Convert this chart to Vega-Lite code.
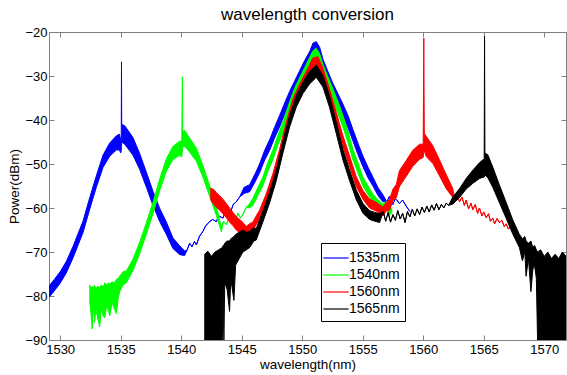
{
  "$schema": "https://vega.github.io/schema/vega-lite/v6.json",
  "width": 517,
  "height": 308,
  "autosize": {"type": "none"},
  "padding": {"left": 49, "top": 32, "right": 1, "bottom": 35},
  "title": {"text": "wavelength conversion", "fontSize": 17, "fontWeight": "normal", "font": "Liberation Sans", "color": "#000000", "offset": 2},
  "datasets": {
    "blue": [
      {"s":"1535nm","x":1529.08,"hi":-77.7,"lo":-80.3},
      {"s":"1535nm","x":1529.5,"hi":-76.3,"lo":-78.9},
      {"s":"1535nm","x":1530.0,"hi":-74.5,"lo":-77.1},
      {"s":"1535nm","x":1530.5,"hi":-72.2,"lo":-74.8},
      {"s":"1535nm","x":1531.07,"hi":-68.7,"lo":-71.3},
      {"s":"1535nm","x":1531.5,"hi":-65.7,"lo":-68.3},
      {"s":"1535nm","x":1531.9,"hi":-62.9,"lo":-65.5},
      {"s":"1535nm","x":1532.45,"hi":-57.6,"lo":-60.2},
      {"s":"1535nm","x":1533.0,"hi":-52.6,"lo":-55.2},
      {"s":"1535nm","x":1533.54,"hi":-48.0,"lo":-50.8},
      {"s":"1535nm","x":1534.1,"hi":-45.2,"lo":-48.2},
      {"s":"1535nm","x":1534.65,"hi":-43.6,"lo":-46.8},
      {"s":"1535nm","x":1534.9,"hi":-43.2,"lo":-46.8},
      {"s":"1535nm","x":1535.0,"hi":-44.5,"lo":-47.5},
      {"s":"1535nm","x":1535.05,"hi":-45.0,"lo":-47.0},
      {"s":"1535nm","x":1535.07,"hi":-26.8,"lo":-46.0},
      {"s":"1535nm","x":1535.09,"hi":-41.0,"lo":-45.0},
      {"s":"1535nm","x":1535.34,"hi":-41.3,"lo":-45.5},
      {"s":"1535nm","x":1536.02,"hi":-44.0,"lo":-48.0},
      {"s":"1535nm","x":1536.57,"hi":-47.6,"lo":-51.2},
      {"s":"1535nm","x":1537.13,"hi":-51.9,"lo":-55.3},
      {"s":"1535nm","x":1537.67,"hi":-56.2,"lo":-59.4},
      {"s":"1535nm","x":1538.23,"hi":-60.1,"lo":-63.1},
      {"s":"1535nm","x":1538.78,"hi":-63.2,"lo":-66.0},
      {"s":"1535nm","x":1539.32,"hi":-66.8,"lo":-69.2},
      {"s":"1535nm","x":1539.88,"hi":-68.6,"lo":-70.6},
      {"s":"1535nm","x":1540.29,"hi":-69.8,"lo":-70.8},
      {"s":"1535nm","x":1540.5,"hi":-69.5,"lo":-69.5},
      {"s":"1535nm","x":1540.7,"hi":-68.0,"lo":-68.0},
      {"s":"1535nm","x":1540.9,"hi":-68.8,"lo":-68.8},
      {"s":"1535nm","x":1541.1,"hi":-67.6,"lo":-67.6},
      {"s":"1535nm","x":1541.26,"hi":-68.4,"lo":-68.4},
      {"s":"1535nm","x":1541.5,"hi":-66.5,"lo":-66.5},
      {"s":"1535nm","x":1541.8,"hi":-65.3,"lo":-65.3},
      {"s":"1535nm","x":1542.0,"hi":-64.2,"lo":-64.2},
      {"s":"1535nm","x":1542.2,"hi":-63.5,"lo":-63.5},
      {"s":"1535nm","x":1542.36,"hi":-63.1,"lo":-63.1},
      {"s":"1535nm","x":1542.6,"hi":-62.6,"lo":-62.6},
      {"s":"1535nm","x":1542.91,"hi":-63.1,"lo":-63.1},
      {"s":"1535nm","x":1543.1,"hi":-61.8,"lo":-61.8},
      {"s":"1535nm","x":1543.45,"hi":-62.3,"lo":-62.3},
      {"s":"1535nm","x":1543.7,"hi":-60.6,"lo":-60.6},
      {"s":"1535nm","x":1544.0,"hi":-61.6,"lo":-61.6},
      {"s":"1535nm","x":1544.3,"hi":-59.2,"lo":-59.2},
      {"s":"1535nm","x":1544.56,"hi":-58.6,"lo":-58.6},
      {"s":"1535nm","x":1544.83,"hi":-57.5,"lo":-57.5},
      {"s":"1535nm","x":1545.2,"hi":-55.3,"lo":-56.7},
      {"s":"1535nm","x":1545.66,"hi":-54.7,"lo":-56.3},
      {"s":"1535nm","x":1546.1,"hi":-52.3,"lo":-54.1},
      {"s":"1535nm","x":1546.48,"hi":-50.0,"lo":-52.0},
      {"s":"1535nm","x":1546.9,"hi":-46.9,"lo":-49.1},
      {"s":"1535nm","x":1547.31,"hi":-44.5,"lo":-46.9},
      {"s":"1535nm","x":1547.7,"hi":-41.8,"lo":-44.2},
      {"s":"1535nm","x":1548.13,"hi":-39.0,"lo":-41.6},
      {"s":"1535nm","x":1548.5,"hi":-36.5,"lo":-39.1},
      {"s":"1535nm","x":1548.96,"hi":-33.5,"lo":-36.5},
      {"s":"1535nm","x":1549.4,"hi":-31.0,"lo":-34.0},
      {"s":"1535nm","x":1549.79,"hi":-28.8,"lo":-32.2},
      {"s":"1535nm","x":1550.2,"hi":-26.5,"lo":-29.9},
      {"s":"1535nm","x":1550.61,"hi":-24.5,"lo":-28.5},
      {"s":"1535nm","x":1550.9,"hi":-22.5,"lo":-26.5},
      {"s":"1535nm","x":1551.17,"hi":-22.2,"lo":-25.8},
      {"s":"1535nm","x":1551.45,"hi":-23.5,"lo":-27.5},
      {"s":"1535nm","x":1551.72,"hi":-26.2,"lo":-29.8},
      {"s":"1535nm","x":1552.1,"hi":-28.8,"lo":-32.2},
      {"s":"1535nm","x":1552.54,"hi":-31.7,"lo":-34.7},
      {"s":"1535nm","x":1552.95,"hi":-34.0,"lo":-37.0},
      {"s":"1535nm","x":1553.37,"hi":-36.4,"lo":-39.2},
      {"s":"1535nm","x":1553.8,"hi":-39.1,"lo":-41.9},
      {"s":"1535nm","x":1554.2,"hi":-42.2,"lo":-44.8},
      {"s":"1535nm","x":1554.6,"hi":-45.2,"lo":-47.8},
      {"s":"1535nm","x":1555.02,"hi":-48.2,"lo":-50.6},
      {"s":"1535nm","x":1555.45,"hi":-50.8,"lo":-53.2},
      {"s":"1535nm","x":1555.85,"hi":-53.0,"lo":-55.0},
      {"s":"1535nm","x":1556.25,"hi":-55.3,"lo":-57.1},
      {"s":"1535nm","x":1556.67,"hi":-57.0,"lo":-58.6},
      {"s":"1535nm","x":1557.0,"hi":-58.6,"lo":-58.6},
      {"s":"1535nm","x":1557.2,"hi":-57.4,"lo":-57.4},
      {"s":"1535nm","x":1557.49,"hi":-59.2,"lo":-59.2},
      {"s":"1535nm","x":1557.7,"hi":-57.8,"lo":-57.8},
      {"s":"1535nm","x":1558.04,"hi":-59.0,"lo":-59.0},
      {"s":"1535nm","x":1558.3,"hi":-58.2,"lo":-58.2},
      {"s":"1535nm","x":1558.6,"hi":-59.6,"lo":-59.6},
      {"s":"1535nm","x":1558.9,"hi":-60.8,"lo":-60.8}
    ],
    "green": [
      {"s":"1540nm","x":1532.45,"hi":-77.5,"lo":-81.5},
      {"s":"1540nm","x":1532.55,"hi":-78.5,"lo":-84.0},
      {"s":"1540nm","x":1532.65,"hi":-77.8,"lo":-87.5},
      {"s":"1540nm","x":1532.75,"hi":-78.2,"lo":-82.0},
      {"s":"1540nm","x":1532.85,"hi":-77.6,"lo":-86.0},
      {"s":"1540nm","x":1532.95,"hi":-78.5,"lo":-83.0},
      {"s":"1540nm","x":1533.1,"hi":-77.8,"lo":-85.0},
      {"s":"1540nm","x":1533.27,"hi":-78.0,"lo":-87.0},
      {"s":"1540nm","x":1533.4,"hi":-77.5,"lo":-82.5},
      {"s":"1540nm","x":1533.55,"hi":-78.0,"lo":-84.5},
      {"s":"1540nm","x":1533.69,"hi":-77.0,"lo":-85.0},
      {"s":"1540nm","x":1533.85,"hi":-77.5,"lo":-82.0},
      {"s":"1540nm","x":1534.0,"hi":-77.0,"lo":-83.5},
      {"s":"1540nm","x":1534.1,"hi":-77.2,"lo":-84.5},
      {"s":"1540nm","x":1534.3,"hi":-76.8,"lo":-81.5},
      {"s":"1540nm","x":1534.5,"hi":-77.0,"lo":-83.0},
      {"s":"1540nm","x":1534.65,"hi":-76.2,"lo":-84.0},
      {"s":"1540nm","x":1534.8,"hi":-76.0,"lo":-80.5},
      {"s":"1540nm","x":1534.92,"hi":-75.5,"lo":-79.0},
      {"s":"1540nm","x":1535.2,"hi":-74.5,"lo":-77.5},
      {"s":"1540nm","x":1535.47,"hi":-74.3,"lo":-77.0},
      {"s":"1540nm","x":1536.02,"hi":-71.6,"lo":-74.2},
      {"s":"1540nm","x":1536.57,"hi":-67.8,"lo":-70.4},
      {"s":"1540nm","x":1537.13,"hi":-63.3,"lo":-65.9},
      {"s":"1540nm","x":1537.67,"hi":-58.7,"lo":-61.3},
      {"s":"1540nm","x":1538.23,"hi":-53.4,"lo":-56.0},
      {"s":"1540nm","x":1538.78,"hi":-48.8,"lo":-51.6},
      {"s":"1540nm","x":1539.32,"hi":-46.0,"lo":-49.0},
      {"s":"1540nm","x":1539.88,"hi":-44.8,"lo":-48.0},
      {"s":"1540nm","x":1540.05,"hi":-44.8,"lo":-48.4},
      {"s":"1540nm","x":1540.1,"hi":-30.2,"lo":-47.0},
      {"s":"1540nm","x":1540.13,"hi":-42.5,"lo":-46.0},
      {"s":"1540nm","x":1540.29,"hi":-42.4,"lo":-46.0},
      {"s":"1540nm","x":1540.7,"hi":-44.1,"lo":-47.3},
      {"s":"1540nm","x":1541.26,"hi":-46.4,"lo":-49.4},
      {"s":"1540nm","x":1541.8,"hi":-50.4,"lo":-53.0},
      {"s":"1540nm","x":1542.36,"hi":-55.0,"lo":-57.4},
      {"s":"1540nm","x":1542.91,"hi":-59.7,"lo":-61.7},
      {"s":"1540nm","x":1543.32,"hi":-64.4,"lo":-65.4},
      {"s":"1540nm","x":1543.5,"hi":-63.0,"lo":-63.0},
      {"s":"1540nm","x":1543.73,"hi":-63.8,"lo":-63.8},
      {"s":"1540nm","x":1543.95,"hi":-62.2,"lo":-62.2},
      {"s":"1540nm","x":1544.15,"hi":-63.5,"lo":-63.5},
      {"s":"1540nm","x":1544.28,"hi":-62.0,"lo":-62.0},
      {"s":"1540nm","x":1544.5,"hi":-62.8,"lo":-62.8},
      {"s":"1540nm","x":1544.7,"hi":-61.2,"lo":-61.2},
      {"s":"1540nm","x":1544.9,"hi":-62.3,"lo":-62.3},
      {"s":"1540nm","x":1545.1,"hi":-61.4,"lo":-61.4},
      {"s":"1540nm","x":1545.4,"hi":-59.8,"lo":-59.8},
      {"s":"1540nm","x":1545.66,"hi":-59.0,"lo":-60.0},
      {"s":"1540nm","x":1545.93,"hi":-57.8,"lo":-59.4},
      {"s":"1540nm","x":1546.35,"hi":-55.3,"lo":-57.1},
      {"s":"1540nm","x":1546.75,"hi":-53.0,"lo":-55.0},
      {"s":"1540nm","x":1547.15,"hi":-49.8,"lo":-51.8},
      {"s":"1540nm","x":1547.58,"hi":-46.8,"lo":-49.0},
      {"s":"1540nm","x":1548.0,"hi":-43.4,"lo":-45.6},
      {"s":"1540nm","x":1548.4,"hi":-40.5,"lo":-43.1},
      {"s":"1540nm","x":1548.96,"hi":-35.9,"lo":-38.7},
      {"s":"1540nm","x":1549.4,"hi":-32.6,"lo":-35.4},
      {"s":"1540nm","x":1549.79,"hi":-30.4,"lo":-33.4},
      {"s":"1540nm","x":1550.2,"hi":-28.1,"lo":-31.1},
      {"s":"1540nm","x":1550.61,"hi":-25.8,"lo":-29.0},
      {"s":"1540nm","x":1550.9,"hi":-24.2,"lo":-27.4},
      {"s":"1540nm","x":1551.17,"hi":-23.7,"lo":-26.7},
      {"s":"1540nm","x":1551.45,"hi":-25.0,"lo":-28.0},
      {"s":"1540nm","x":1551.72,"hi":-27.4,"lo":-30.4},
      {"s":"1540nm","x":1552.1,"hi":-30.0,"lo":-33.0},
      {"s":"1540nm","x":1552.54,"hi":-32.9,"lo":-35.7},
      {"s":"1540nm","x":1552.95,"hi":-35.8,"lo":-38.6},
      {"s":"1540nm","x":1553.37,"hi":-39.0,"lo":-41.6},
      {"s":"1540nm","x":1553.8,"hi":-42.7,"lo":-45.3},
      {"s":"1540nm","x":1554.2,"hi":-46.7,"lo":-49.1},
      {"s":"1540nm","x":1554.6,"hi":-49.6,"lo":-52.0},
      {"s":"1540nm","x":1555.02,"hi":-53.0,"lo":-55.0},
      {"s":"1540nm","x":1555.45,"hi":-55.0,"lo":-57.0},
      {"s":"1540nm","x":1555.85,"hi":-56.9,"lo":-58.7},
      {"s":"1540nm","x":1556.25,"hi":-58.1,"lo":-59.9},
      {"s":"1540nm","x":1556.67,"hi":-59.1,"lo":-60.9},
      {"s":"1540nm","x":1557.0,"hi":-58.5,"lo":-59.9},
      {"s":"1540nm","x":1557.2,"hi":-60.3,"lo":-61.7},
      {"s":"1540nm","x":1557.4,"hi":-60.0,"lo":-61.0}
    ],
    "red": [
      {"s":"1560nm","x":1542.45,"hi":-55.5,"lo":-58.2},
      {"s":"1560nm","x":1542.7,"hi":-55.8,"lo":-59.2},
      {"s":"1560nm","x":1542.9,"hi":-56.5,"lo":-59.8},
      {"s":"1560nm","x":1543.18,"hi":-57.2,"lo":-60.5},
      {"s":"1560nm","x":1543.45,"hi":-58.0,"lo":-61.3},
      {"s":"1560nm","x":1543.73,"hi":-59.0,"lo":-62.2},
      {"s":"1560nm","x":1544.0,"hi":-60.0,"lo":-63.2},
      {"s":"1560nm","x":1544.28,"hi":-61.0,"lo":-64.0},
      {"s":"1560nm","x":1544.56,"hi":-62.0,"lo":-65.0},
      {"s":"1560nm","x":1545.0,"hi":-63.0,"lo":-66.0},
      {"s":"1560nm","x":1545.39,"hi":-64.2,"lo":-67.0},
      {"s":"1560nm","x":1545.7,"hi":-63.5,"lo":-66.0},
      {"s":"1560nm","x":1545.93,"hi":-63.2,"lo":-65.2},
      {"s":"1560nm","x":1546.2,"hi":-61.8,"lo":-63.8},
      {"s":"1560nm","x":1546.48,"hi":-60.5,"lo":-62.5},
      {"s":"1560nm","x":1547.03,"hi":-56.8,"lo":-58.8},
      {"s":"1560nm","x":1547.58,"hi":-52.2,"lo":-54.4},
      {"s":"1560nm","x":1548.13,"hi":-46.7,"lo":-49.1},
      {"s":"1560nm","x":1548.69,"hi":-40.5,"lo":-43.1},
      {"s":"1560nm","x":1549.24,"hi":-35.1,"lo":-37.9},
      {"s":"1560nm","x":1549.79,"hi":-31.8,"lo":-34.8},
      {"s":"1560nm","x":1550.34,"hi":-29.0,"lo":-32.0},
      {"s":"1560nm","x":1550.89,"hi":-25.9,"lo":-28.9},
      {"s":"1560nm","x":1551.3,"hi":-25.6,"lo":-28.4},
      {"s":"1560nm","x":1551.72,"hi":-28.3,"lo":-31.1},
      {"s":"1560nm","x":1552.26,"hi":-33.0,"lo":-35.6},
      {"s":"1560nm","x":1552.82,"hi":-38.3,"lo":-40.9},
      {"s":"1560nm","x":1553.37,"hi":-43.6,"lo":-46.0},
      {"s":"1560nm","x":1553.92,"hi":-48.2,"lo":-50.6},
      {"s":"1560nm","x":1554.47,"hi":-52.9,"lo":-55.1},
      {"s":"1560nm","x":1555.02,"hi":-56.0,"lo":-58.0},
      {"s":"1560nm","x":1555.57,"hi":-58.0,"lo":-60.0},
      {"s":"1560nm","x":1556.12,"hi":-58.7,"lo":-60.7},
      {"s":"1560nm","x":1556.67,"hi":-59.8,"lo":-61.8},
      {"s":"1560nm","x":1556.95,"hi":-58.7,"lo":-60.7},
      {"s":"1560nm","x":1557.22,"hi":-58.1,"lo":-60.5},
      {"s":"1560nm","x":1557.5,"hi":-55.7,"lo":-58.3},
      {"s":"1560nm","x":1557.77,"hi":-54.7,"lo":-57.7},
      {"s":"1560nm","x":1558.04,"hi":-51.5,"lo":-55.1},
      {"s":"1560nm","x":1558.6,"hi":-49.2,"lo":-52.8},
      {"s":"1560nm","x":1559.14,"hi":-46.9,"lo":-50.5},
      {"s":"1560nm","x":1559.7,"hi":-45.5,"lo":-48.9},
      {"s":"1560nm","x":1560.0,"hi":-45.5,"lo":-48.5},
      {"s":"1560nm","x":1560.05,"hi":-21.4,"lo":-47.0},
      {"s":"1560nm","x":1560.09,"hi":-43.0,"lo":-47.0},
      {"s":"1560nm","x":1560.25,"hi":-43.7,"lo":-48.3},
      {"s":"1560nm","x":1560.8,"hi":-45.9,"lo":-49.9},
      {"s":"1560nm","x":1561.35,"hi":-49.1,"lo":-52.7},
      {"s":"1560nm","x":1561.9,"hi":-52.4,"lo":-55.6},
      {"s":"1560nm","x":1562.45,"hi":-55.6,"lo":-57.6},
      {"s":"1560nm","x":1562.6,"hi":-58.0,"lo":-58.0},
      {"s":"1560nm","x":1562.8,"hi":-57.0,"lo":-57.0},
      {"s":"1560nm","x":1563.0,"hi":-58.6,"lo":-58.6},
      {"s":"1560nm","x":1563.2,"hi":-57.5,"lo":-57.5},
      {"s":"1560nm","x":1563.4,"hi":-59.4,"lo":-59.4},
      {"s":"1560nm","x":1563.55,"hi":-58.2,"lo":-58.2},
      {"s":"1560nm","x":1563.75,"hi":-60.2,"lo":-60.2},
      {"s":"1560nm","x":1563.95,"hi":-58.9,"lo":-58.9},
      {"s":"1560nm","x":1564.1,"hi":-60.4,"lo":-60.4},
      {"s":"1560nm","x":1564.3,"hi":-59.2,"lo":-59.2},
      {"s":"1560nm","x":1564.5,"hi":-61.2,"lo":-61.2},
      {"s":"1560nm","x":1564.65,"hi":-60.0,"lo":-60.0},
      {"s":"1560nm","x":1564.85,"hi":-61.8,"lo":-61.8},
      {"s":"1560nm","x":1565.0,"hi":-60.9,"lo":-60.9},
      {"s":"1560nm","x":1565.2,"hi":-62.2,"lo":-62.2},
      {"s":"1560nm","x":1565.4,"hi":-61.3,"lo":-61.3},
      {"s":"1560nm","x":1565.55,"hi":-63.0,"lo":-63.0},
      {"s":"1560nm","x":1565.75,"hi":-62.3,"lo":-62.3},
      {"s":"1560nm","x":1565.9,"hi":-63.6,"lo":-63.6},
      {"s":"1560nm","x":1566.1,"hi":-62.4,"lo":-62.4},
      {"s":"1560nm","x":1566.3,"hi":-63.3,"lo":-63.3},
      {"s":"1560nm","x":1566.5,"hi":-62.8,"lo":-62.8},
      {"s":"1560nm","x":1566.7,"hi":-64.2,"lo":-64.2},
      {"s":"1560nm","x":1566.85,"hi":-63.6,"lo":-63.6},
      {"s":"1560nm","x":1567.05,"hi":-64.8,"lo":-64.8},
      {"s":"1560nm","x":1567.25,"hi":-64.0,"lo":-64.0},
      {"s":"1560nm","x":1567.4,"hi":-65.2,"lo":-65.2},
      {"s":"1560nm","x":1567.55,"hi":-64.6,"lo":-64.6},
      {"s":"1560nm","x":1567.7,"hi":-66.0,"lo":-66.0}
    ],
    "black": [
      {"s":"1565nm","x":1541.95,"hi":-70.5,"lo":-90},
      {"s":"1565nm","x":1542.2,"hi":-69.8,"lo":-90},
      {"s":"1565nm","x":1542.5,"hi":-71.0,"lo":-90},
      {"s":"1565nm","x":1542.8,"hi":-70.0,"lo":-90},
      {"s":"1565nm","x":1543.1,"hi":-69.5,"lo":-90},
      {"s":"1565nm","x":1543.4,"hi":-69.0,"lo":-90},
      {"s":"1565nm","x":1543.47,"hi":-68.5,"lo":-78.0},
      {"s":"1565nm","x":1543.53,"hi":-68.5,"lo":-90},
      {"s":"1565nm","x":1543.6,"hi":-68.0,"lo":-77.0},
      {"s":"1565nm","x":1543.8,"hi":-67.5,"lo":-78.5},
      {"s":"1565nm","x":1544.0,"hi":-67.5,"lo":-83.5},
      {"s":"1565nm","x":1544.1,"hi":-67.0,"lo":-76.0},
      {"s":"1565nm","x":1544.36,"hi":-66.5,"lo":-81.0},
      {"s":"1565nm","x":1544.5,"hi":-66.0,"lo":-73.0},
      {"s":"1565nm","x":1544.8,"hi":-65.5,"lo":-71.5},
      {"s":"1565nm","x":1545.1,"hi":-65.0,"lo":-70.0},
      {"s":"1565nm","x":1545.4,"hi":-65.5,"lo":-69.5},
      {"s":"1565nm","x":1545.66,"hi":-65.3,"lo":-69.0},
      {"s":"1565nm","x":1546.0,"hi":-64.5,"lo":-67.5},
      {"s":"1565nm","x":1546.2,"hi":-64.7,"lo":-67.3},
      {"s":"1565nm","x":1546.75,"hi":-60.8,"lo":-63.2},
      {"s":"1565nm","x":1547.3,"hi":-56.5,"lo":-58.9},
      {"s":"1565nm","x":1547.86,"hi":-51.4,"lo":-53.8},
      {"s":"1565nm","x":1548.4,"hi":-45.0,"lo":-47.6},
      {"s":"1565nm","x":1548.96,"hi":-39.0,"lo":-41.6},
      {"s":"1565nm","x":1549.51,"hi":-34.5,"lo":-37.1},
      {"s":"1565nm","x":1550.06,"hi":-31.4,"lo":-34.0},
      {"s":"1565nm","x":1550.61,"hi":-29.0,"lo":-31.8},
      {"s":"1565nm","x":1551.17,"hi":-27.5,"lo":-30.3},
      {"s":"1565nm","x":1551.72,"hi":-29.9,"lo":-32.5},
      {"s":"1565nm","x":1552.26,"hi":-34.5,"lo":-37.1},
      {"s":"1565nm","x":1552.82,"hi":-40.5,"lo":-43.1},
      {"s":"1565nm","x":1553.37,"hi":-46.7,"lo":-49.1},
      {"s":"1565nm","x":1553.92,"hi":-51.4,"lo":-53.8},
      {"s":"1565nm","x":1554.47,"hi":-55.9,"lo":-58.1},
      {"s":"1565nm","x":1555.02,"hi":-59.0,"lo":-61.2},
      {"s":"1565nm","x":1555.57,"hi":-60.6,"lo":-62.6},
      {"s":"1565nm","x":1556.0,"hi":-61.0,"lo":-63.0},
      {"s":"1565nm","x":1556.4,"hi":-61.3,"lo":-63.3},
      {"s":"1565nm","x":1556.7,"hi":-60.8,"lo":-60.8},
      {"s":"1565nm","x":1556.9,"hi":-63.0,"lo":-63.0},
      {"s":"1565nm","x":1557.1,"hi":-61.0,"lo":-61.0},
      {"s":"1565nm","x":1557.3,"hi":-63.2,"lo":-63.2},
      {"s":"1565nm","x":1557.5,"hi":-61.5,"lo":-61.5},
      {"s":"1565nm","x":1557.7,"hi":-62.8,"lo":-62.8},
      {"s":"1565nm","x":1557.9,"hi":-60.6,"lo":-60.6},
      {"s":"1565nm","x":1558.1,"hi":-62.5,"lo":-62.5},
      {"s":"1565nm","x":1558.3,"hi":-61.2,"lo":-61.2},
      {"s":"1565nm","x":1558.5,"hi":-63.3,"lo":-63.3},
      {"s":"1565nm","x":1558.7,"hi":-60.8,"lo":-60.8},
      {"s":"1565nm","x":1558.9,"hi":-62.0,"lo":-62.0},
      {"s":"1565nm","x":1559.1,"hi":-60.3,"lo":-60.3},
      {"s":"1565nm","x":1559.3,"hi":-61.8,"lo":-61.8},
      {"s":"1565nm","x":1559.5,"hi":-60.2,"lo":-60.2},
      {"s":"1565nm","x":1559.7,"hi":-61.5,"lo":-61.5},
      {"s":"1565nm","x":1559.9,"hi":-59.8,"lo":-59.8},
      {"s":"1565nm","x":1560.1,"hi":-61.0,"lo":-61.0},
      {"s":"1565nm","x":1560.3,"hi":-59.6,"lo":-59.6},
      {"s":"1565nm","x":1560.5,"hi":-60.9,"lo":-60.9},
      {"s":"1565nm","x":1560.7,"hi":-59.3,"lo":-59.3},
      {"s":"1565nm","x":1560.9,"hi":-60.5,"lo":-60.5},
      {"s":"1565nm","x":1561.1,"hi":-59.0,"lo":-59.0},
      {"s":"1565nm","x":1561.3,"hi":-60.4,"lo":-60.4},
      {"s":"1565nm","x":1561.5,"hi":-59.2,"lo":-59.2},
      {"s":"1565nm","x":1561.7,"hi":-60.0,"lo":-60.0},
      {"s":"1565nm","x":1561.9,"hi":-58.9,"lo":-58.9},
      {"s":"1565nm","x":1562.1,"hi":-59.4,"lo":-59.4},
      {"s":"1565nm","x":1562.45,"hi":-57.5,"lo":-59.1},
      {"s":"1565nm","x":1563.0,"hi":-55.6,"lo":-57.6},
      {"s":"1565nm","x":1563.55,"hi":-53.3,"lo":-55.7},
      {"s":"1565nm","x":1564.1,"hi":-51.4,"lo":-54.4},
      {"s":"1565nm","x":1564.65,"hi":-49.7,"lo":-53.3},
      {"s":"1565nm","x":1564.95,"hi":-49.0,"lo":-53.0},
      {"s":"1565nm","x":1565.04,"hi":-49.0,"lo":-53.0},
      {"s":"1565nm","x":1565.07,"hi":-21.0,"lo":-52.0},
      {"s":"1565nm","x":1565.1,"hi":-47.5,"lo":-52.5},
      {"s":"1565nm","x":1565.34,"hi":-47.9,"lo":-53.1},
      {"s":"1565nm","x":1565.75,"hi":-50.7,"lo":-55.3},
      {"s":"1565nm","x":1566.3,"hi":-54.8,"lo":-58.8},
      {"s":"1565nm","x":1566.85,"hi":-58.7,"lo":-62.3},
      {"s":"1565nm","x":1567.4,"hi":-62.7,"lo":-65.9},
      {"s":"1565nm","x":1567.95,"hi":-66.0,"lo":-69.0},
      {"s":"1565nm","x":1568.2,"hi":-67.0,"lo":-72.0},
      {"s":"1565nm","x":1568.4,"hi":-66.5,"lo":-70.0},
      {"s":"1565nm","x":1568.5,"hi":-67.5,"lo":-75.5},
      {"s":"1565nm","x":1568.7,"hi":-68.0,"lo":-71.5},
      {"s":"1565nm","x":1568.9,"hi":-67.5,"lo":-79.0},
      {"s":"1565nm","x":1569.06,"hi":-69.0,"lo":-74.0},
      {"s":"1565nm","x":1569.2,"hi":-68.5,"lo":-73.0},
      {"s":"1565nm","x":1569.35,"hi":-69.5,"lo":-76.0},
      {"s":"1565nm","x":1569.45,"hi":-70.0,"lo":-90},
      {"s":"1565nm","x":1569.7,"hi":-69.5,"lo":-90},
      {"s":"1565nm","x":1570.0,"hi":-71.0,"lo":-90},
      {"s":"1565nm","x":1570.3,"hi":-70.0,"lo":-90},
      {"s":"1565nm","x":1570.6,"hi":-71.5,"lo":-90},
      {"s":"1565nm","x":1570.9,"hi":-70.5,"lo":-90},
      {"s":"1565nm","x":1571.2,"hi":-71.5,"lo":-90},
      {"s":"1565nm","x":1571.5,"hi":-70.0,"lo":-90},
      {"s":"1565nm","x":1571.8,"hi":-71.0,"lo":-90}
    ]
  },
  "encoding": {
    "x": {"field": "x", "type": "quantitative", "scale": {"domain": [1529.08, 1571.8], "nice": false, "zero": false}, "axis": null},
    "y": {"field": "hi", "type": "quantitative", "scale": {"domain": [-90, -20], "nice": false, "zero": false}, "axis": null},
    "y2": {"field": "lo"},
    "fill": {"field": "s", "type": "nominal", "scale": {"domain": ["1535nm", "1540nm", "1560nm", "1565nm"], "range": ["#0000ff", "#00ff00", "#ff0000", "#000000"]},
      "legend": {"orient": "none", "legendX": 272, "legendY": 211, "title": null, "symbolType": "M-1.4,0H1.4", "symbolSize": 324, "symbolStrokeWidth": 1.2, "labelFontSize": 14, "labelFont": "Liberation Sans", "labelColor": "#000000", "strokeColor": "#000000", "fillColor": "#ffffff", "padding": 5, "rowPadding": 0, "labelOffset": 3}},
    "stroke": {"field": "s", "type": "nominal", "scale": {"domain": ["1535nm", "1540nm", "1560nm", "1565nm"], "range": ["#0000ff", "#00ff00", "#ff0000", "#000000"]},
      "legend": {"orient": "none", "legendX": 272, "legendY": 211, "title": null, "symbolType": "M-1.4,0H1.4", "symbolSize": 324, "symbolStrokeWidth": 1.2, "labelFontSize": 14, "labelFont": "Liberation Sans", "labelColor": "#000000", "strokeColor": "#000000", "fillColor": "#ffffff", "padding": 5, "rowPadding": 0, "labelOffset": 3}}
  },
  "layer": [
    {
      "data": {"name": "blue"},
      "mark": {"type": "area", "strokeWidth": 1, "clip": true, "fillOpacity": 1},
      "encoding": {
        "x": {"field": "x", "type": "quantitative", "scale": {"domain": [1529.08, 1571.8], "nice": false, "zero": false},
          "axis": {"orient": "bottom", "values": [1530, 1535, 1540, 1545, 1550, 1555, 1560, 1565, 1570], "format": "d", "tickSize": -5, "labelPadding": 8, "labelFlush": false, "title": "wavelength(nm)", "titlePadding": 1}},
        "y": {"field": "hi", "type": "quantitative", "scale": {"domain": [-90, -20], "nice": false, "zero": false},
          "axis": {"orient": "left", "values": [-90, -80, -70, -60, -50, -40, -30, -20], "format": "d", "tickSize": -5, "labelPadding": 7, "labelFlush": false, "title": "Power(dBm)", "titlePadding": 3}}
      }
    },
    {
      "data": {"name": "green"},
      "mark": {"type": "area", "strokeWidth": 1, "clip": true, "fillOpacity": 1}
    },
    {
      "data": {"name": "red"},
      "mark": {"type": "area", "strokeWidth": 1, "clip": true, "fillOpacity": 1}
    },
    {
      "data": {"name": "black"},
      "mark": {"type": "area", "strokeWidth": 1, "clip": true, "fillOpacity": 1},
      "encoding": {
        "x": {"field": "x", "type": "quantitative", "scale": {"domain": [1529.08, 1571.8], "nice": false, "zero": false},
          "axis": {"orient": "top", "values": [1530, 1535, 1540, 1545, 1550, 1555, 1560, 1565, 1570], "tickSize": -5, "labels": false, "title": null}},
        "y": {"field": "hi", "type": "quantitative", "scale": {"domain": [-90, -20], "nice": false, "zero": false},
          "axis": {"orient": "right", "values": [-90, -80, -70, -60, -50, -40, -30, -20], "tickSize": -5, "labels": false, "title": null}}
      }
    }
  ],
  "resolve": {"axis": {"x": "independent", "y": "independent"}},
  "config": {
    "font": "Liberation Sans",
    "view": {"stroke": null},
    "legend": {"labelFontSize": 14, "labelFont": "Liberation Sans", "labelColor": "#000000"},
    "axis": {"grid": false, "domainColor": "#808080", "tickColor": "#808080", "domainWidth": 1, "tickWidth": 1, "labelFontSize": 13, "labelColor": "#000000", "labelFont": "Liberation Sans", "titleFontSize": 13.5, "titleFontWeight": "normal", "titleColor": "#000000", "titleFont": "Liberation Sans"}
  }
}
